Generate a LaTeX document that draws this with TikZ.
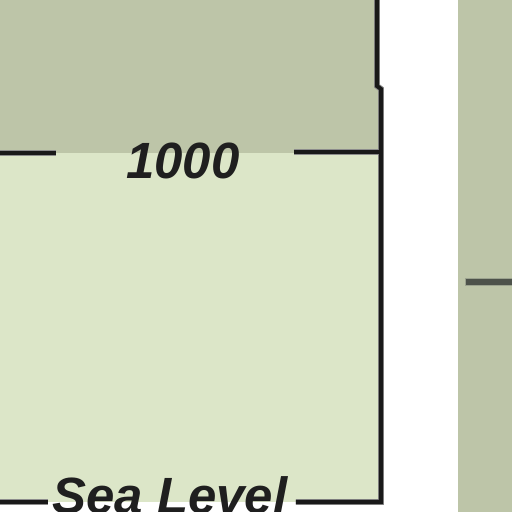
\documentclass[tikz,border=0pt]{standalone}
\usepackage{fontspec}
\setmainfont{Liberation Sans}
\usetikzlibrary{positioning,calc}
\definecolor{bandhigh}{HTML}{BDC5A8}
\definecolor{bandlow}{HTML}{DCE6C8}
\definecolor{gridgray}{HTML}{4D524A}
\tikzset{
  contour/.style={line width=2.3pt,draw=black!90,line cap=butt,line join=miter},
  halo/.style={line width=3.4pt,draw=black!45,line join=miter},
  levellabel/.style={font=\fontsize{29}{29}\selectfont\bfseries\itshape,inner sep=0pt,text=black!88}
}
\begin{document}
\begin{tikzpicture}[x=0.02cm,y=-0.02cm]
  \useasboundingbox (0,0) rectangle (512,512);
  \fill[white] (0,0) rectangle (512,512);
  % bands
  \fill[bandhigh] (0,0) -- (378,0) -- (378,87) -- (381,89) -- (381,153) -- (0,153) -- cycle;
  \fill[bandlow] (0,153) rectangle (381,502);
  % right column
  \fill[bandhigh] (458,0) rectangle (512,512);
  \draw[line width=5pt,draw=bandlow!55!gridgray] (465,282) -- (512,282);
  \draw[line width=3.8pt,draw=gridgray] (466,282) -- (512,282);
  % labels
  \node[levellabel,anchor=base] (thousand) at (183,178) {1000};
  \node[levellabel,anchor=base west] (sealevel) at (52,513) {Sea Level};
  % contour lines
  \foreach \sty in {halo,contour}{
    \draw[\sty] (377,0) -- (377,86) -- (381,89) -- (381,502) -- (296,502);
    \draw[\sty] (294,152) -- (381,152);
    \draw[\sty] (0,153) -- (56,153);
    \draw[\sty] (0,502) -- (48,502);
  }
\end{tikzpicture}
\end{document}
